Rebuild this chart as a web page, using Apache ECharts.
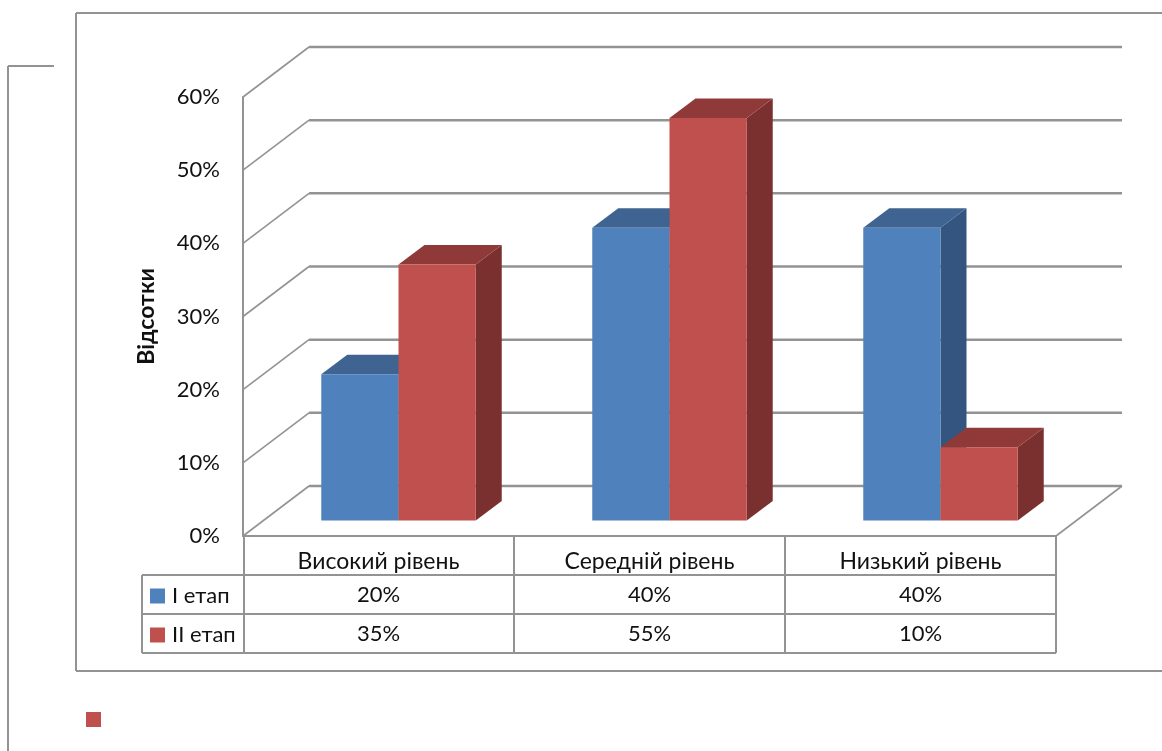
<!DOCTYPE html>
<html>
<head>
<meta charset="utf-8">
<style>html,body{margin:0;padding:0;background:#fff}#chart{width:1162px;height:751px}</style>
<script src="https://cdn.jsdelivr.net/npm/echarts@6/dist/echarts.min.js"></script>
</head>
<body>
<div id="chart"></div>
<script>
// Chart content
const categories = ['Високий рівень', 'Середній рівень', 'Низький рівень'];
const stageOneName = 'I етап';
const stageTwoName = 'II етап';
const stageOne = [20, 40, 40];
const stageTwo = [35, 55, 10];
const axisTicks = [0, 10, 20, 30, 40, 50, 60];
const axisTitle = 'Відсотки';

// Plot geometry
const FONT = 'Lato, "Noto Sans", sans-serif';
const LINE = '#939393';
const TEXT = '#111';
const plot = { left: 243, top: 97, width: 813, height: 439 };
const wall = { dx: 66, dy: -50 };      // shift from the front plane to the back wall
const barShift = { dx: 20, dy: -15.5 }; // where a bar's front face sits on the floor
const barDepth = { dx: 26, dy: -19.5 };
const barRatio = 0.285;                // bar width as a share of a category
const table = { left: 142, head: 575, row1: 614, row2: 653 };

function gridRender(params, api) {
  const cs = params.coordSys;
  const y = api.coord([0, api.value(1)])[1];
  const x0 = cs.x, x1 = cs.x + cs.width;
  const children = [
    {
      type: 'line',
      shape: { x1: x0, y1: y, x2: x0 + wall.dx, y2: y + wall.dy },
      style: { stroke: LINE, lineWidth: 1.6 }
    },
    {
      type: 'line',
      shape: { x1: x0 + wall.dx, y1: y + wall.dy, x2: x1 + wall.dx, y2: y + wall.dy },
      style: { stroke: LINE, lineWidth: 2.5 }
    }
  ];
  if (api.value(1) === 0) {
    children.push({
      type: 'line',
      shape: { x1: x1, y1: y, x2: x1 + wall.dx, y2: y + wall.dy },
      style: { stroke: LINE, lineWidth: 1.6 }
    });
  }
  return { type: 'group', children: children };
}

// One box per value, plus its cell in the data table under the plot
function barRender(side, rowCentre, faces) {
  return function (params, api) {
    const c = api.coord([api.value(0), api.value(1)]);
    const base = api.coord([api.value(0), 0]);
    const w = api.size([1, 0])[0] * barRatio;
    const cx = c[0] + barShift.dx;
    const xL = side < 0 ? cx - w : cx;
    const xR = xL + w;
    const yT = c[1] + barShift.dy;
    const yB = base[1] + barShift.dy;
    const d = barDepth;
    return {
      type: 'group',
      children: [
        { type: 'polygon', shape: { points: [[xR, yT], [xR + d.dx, yT + d.dy], [xR + d.dx, yB + d.dy], [xR, yB]] }, style: { fill: faces.side } },
        { type: 'polygon', shape: { points: [[xL, yT], [xL + d.dx, yT + d.dy], [xR + d.dx, yT + d.dy], [xR, yT]] }, style: { fill: faces.top } },
        { type: 'rect', shape: { x: xL, y: yT, width: w, height: yB - yT }, style: { fill: faces.front } },
        { type: 'text', style: { text: api.value(1) + '%', x: c[0], y: rowCentre, align: 'center', verticalAlign: 'middle', fill: TEXT, font: '22px ' + FONT } }
      ]
    };
  };
}

function tableLines() {
  const bottom = plot.top + plot.height;
  const right = plot.left + plot.width;
  const step = plot.width / categories.length;
  const segs = [
    // surrounding frames
    [76, 13, 1162, 13], [76, 13, 76, 671], [76, 671, 1162, 671],
    [8, 66, 54, 66], [8, 66, 8, 751],
    // data table
    [table.left, table.head, right, table.head],
    [table.left, table.row1, right, table.row1],
    [table.left, table.row2, right, table.row2],
    [table.left, table.head, table.left, table.row2]
  ];
  for (let i = 0; i <= categories.length; i++) {
    const x = plot.left + Math.round(step * i) + (i === 0 ? 1 : 0);
    segs.push([x, bottom, x, table.row2]);
  }
  return segs.map(function (s) {
    return { type: 'line', silent: true, shape: { x1: s[0], y1: s[1], x2: s[2], y2: s[3] }, style: { stroke: LINE, lineWidth: 2 } };
  });
}

const chart = echarts.init(document.getElementById('chart'), null, { renderer: 'canvas' });
chart.setOption({
  animation: false,
  backgroundColor: '#fff',
  grid: { left: plot.left, top: plot.top, width: plot.width, height: plot.height, containLabel: false },
  legend: {
    data: [stageOneName, stageTwoName],
    orient: 'vertical',
    left: 150,
    top: 584,
    padding: 0,
    itemWidth: 15,
    itemHeight: 15,
    itemGap: 15,
    icon: 'rect',
    selectedMode: false,
    textStyle: { fontFamily: FONT, fontSize: 22, color: TEXT, padding: [0, 0, 0, 2], lineHeight: 24 }
  },
  xAxis: {
    type: 'category',
    data: categories,
    axisTick: { show: false },
    axisLine: { show: true, lineStyle: { color: LINE, width: 2 } },
    axisLabel: { color: TEXT, fontFamily: FONT, fontSize: 23, margin: 14 },
    splitLine: { show: false }
  },
  yAxis: {
    type: 'value',
    min: axisTicks[0],
    max: axisTicks[axisTicks.length - 1],
    interval: 10,
    name: axisTitle,
    nameLocation: 'middle',
    nameRotate: 90,
    nameGap: 85,
    nameTextStyle: { color: TEXT, fontFamily: FONT, fontSize: 23, fontWeight: 'bold' },
    axisLine: { show: true, lineStyle: { color: LINE, width: 2 } },
    axisTick: { show: false },
    splitLine: { show: false },
    axisLabel: { color: TEXT, fontFamily: FONT, fontSize: 22, margin: 23, padding: [8, 0, 0, 0], formatter: '{value}%' }
  },
  graphic: { elements: tableLines().concat([
    { type: 'rect', silent: true, shape: { x: 86, y: 712, width: 15, height: 15 }, style: { fill: '#C0504D' } }
  ]) },
  series: [
    {
      type: 'custom', name: 'grid', z: 1, silent: true, clip: false,
      data: axisTicks.map(function (v) { return [0, v]; }),
      encode: { x: 0, y: 1 },
      renderItem: gridRender
    },
    {
      type: 'custom', name: stageOneName, z: 2, clip: false,
      itemStyle: { color: '#4F81BD' },
      data: stageOne.map(function (v, i) { return [i, v]; }),
      encode: { x: 0, y: 1 },
      renderItem: barRender(-1, 594.5, { front: '#4F81BD', top: '#3F6491', side: '#33557F' })
    },
    {
      type: 'custom', name: stageTwoName, z: 3, clip: false,
      itemStyle: { color: '#C0504D' },
      data: stageTwo.map(function (v, i) { return [i, v]; }),
      encode: { x: 0, y: 1 },
      renderItem: barRender(1, 633.5, { front: '#C0504D', top: '#8F3A38', side: '#7A302F' })
    }
  ]
});
</script>
</body>
</html>
